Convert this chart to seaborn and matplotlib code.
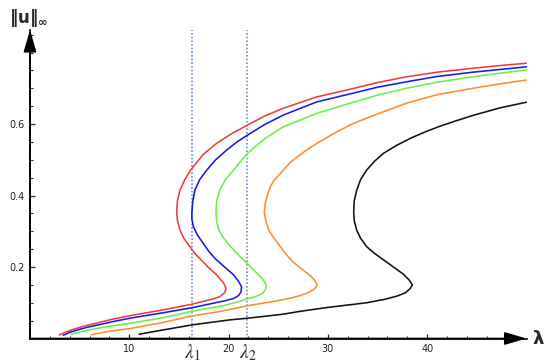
import numpy as np
import pandas as pd
import seaborn as sns
import matplotlib
matplotlib.use("Agg")
import matplotlib.pyplot as plt

# ============ 数据 ============
red_lam = [2.95, 3.6, 4.4, 5.5, 6.7, 8.3, 10.1, 13.4, 16.3, 17.6, 18.5, 19.1, 19.6, 19.74, 19.5, 18.8,
           18.0, 17.3, 16.6, 16.1, 15.5, 15.1, 14.85, 14.77, 14.85, 15.1, 15.6, 16.2, 17.45, 18.8, 20.3,
           21.9, 23.6, 25.5, 28.9, 32.2, 35.0, 37.9, 41.0, 44.6, 47.5, 50.0]
red_u = [0.010, 0.018, 0.026, 0.035, 0.043, 0.054, 0.064, 0.080, 0.096, 0.105, 0.111, 0.117, 0.128, 0.140, 0.155, 0.178,
         0.198, 0.218, 0.238, 0.257, 0.280, 0.303, 0.330, 0.355, 0.385, 0.415, 0.445, 0.472, 0.515, 0.546, 0.573,
         0.597, 0.622, 0.644, 0.676, 0.697, 0.716, 0.732, 0.745, 0.756, 0.764, 0.770]

blue_lam = [3.35, 4.0, 4.8, 5.7, 6.7, 8.3, 10.1, 13.4, 16.3, 18.5, 19.7, 20.5, 21.0, 21.25, 21.3, 21.0, 20.5,
            19.6, 18.7, 18.0, 17.45, 16.85, 16.45, 16.3, 16.3, 16.4, 16.6, 17.1, 17.8, 18.7, 19.8, 20.8,
            21.9, 23.6, 25.5, 28.9, 32.2, 35.0, 37.9, 41.0, 44.6, 47.5, 50.0]
blue_u = [0.009, 0.017, 0.024, 0.031, 0.037, 0.047, 0.057, 0.072, 0.086, 0.099, 0.106, 0.112, 0.120, 0.130, 0.145, 0.160, 0.178,
          0.200, 0.222, 0.244, 0.266, 0.290, 0.313, 0.335, 0.352, 0.385, 0.415, 0.445, 0.471, 0.500, 0.527, 0.549,
          0.569, 0.598, 0.625, 0.662, 0.684, 0.703, 0.718, 0.733, 0.745, 0.753, 0.760]

green_lam = [4.13, 4.8, 5.6, 7.5, 10.1, 13.4, 16.3, 19.5, 21.0, 22.0, 22.8, 23.4, 23.7, 23.8, 23.6, 23.2, 22.7,
             22.0, 21.3, 20.6, 19.8, 19.35, 19.0, 18.8, 18.73, 18.8, 19.1, 19.7, 20.5, 21.2, 21.9, 23.6, 25.5,
             28.9, 32.2, 35.0, 37.9, 41.0, 44.6, 47.5, 50.0]
green_u = [0.011, 0.017, 0.022, 0.032, 0.0425, 0.058, 0.076, 0.092, 0.103, 0.112, 0.118, 0.126, 0.136, 0.148, 0.160, 0.173, 0.187,
           0.206, 0.225, 0.245, 0.270, 0.287, 0.305, 0.328, 0.352, 0.385, 0.415, 0.445, 0.471, 0.495, 0.518, 0.558, 0.592,
           0.630, 0.658, 0.681, 0.700, 0.717, 0.732, 0.743, 0.751]

orange_lam = [6.14, 6.8, 7.5, 8.7, 10.1, 13.4, 16.3, 19.0, 22.0, 25.0, 26.4, 27.2, 27.9, 28.5, 28.8, 28.9, 28.75,
              28.4, 27.9, 27.2, 26.5, 25.8, 25.2, 24.6, 24.1, 23.75, 23.6, 23.7, 23.95, 24.2, 24.6, 25.5, 26.2,
              27.0, 27.9, 28.9, 30.5, 32.2, 33.4, 35.0, 37.9, 41.0, 44.6, 47.5, 50.0]
orange_u = [0.010, 0.014, 0.018, 0.023, 0.028, 0.045, 0.063, 0.075, 0.092, 0.106, 0.114, 0.120, 0.127, 0.136, 0.143, 0.150, 0.160,
            0.171, 0.183, 0.198, 0.214, 0.235, 0.257, 0.280, 0.300, 0.328, 0.355, 0.380, 0.405, 0.425, 0.443, 0.471, 0.492,
            0.510, 0.528, 0.546, 0.572, 0.597, 0.611, 0.628, 0.658, 0.682, 0.700, 0.713, 0.723]

black_lam = [11.0, 13.0, 16.3, 20.1, 22.0, 25.5, 27.2, 30.0, 33.9, 35.8, 37.0, 37.8, 38.3, 38.5, 38.2, 37.6,
             36.6, 35.6, 34.7, 33.9, 33.3, 32.9, 32.65, 32.6, 32.65, 32.9, 33.3, 33.9, 34.7, 35.6, 36.9, 38.3,
             39.8, 41.3, 42.8, 44.6, 47.3, 50.0]
black_u = [0.012, 0.022, 0.038, 0.052, 0.057, 0.068, 0.076, 0.087, 0.100, 0.110, 0.119, 0.128, 0.140, 0.150, 0.163, 0.180,
           0.200, 0.220, 0.238, 0.257, 0.280, 0.303, 0.330, 0.355, 0.385, 0.415, 0.445, 0.471, 0.496, 0.518, 0.540, 0.560,
           0.578, 0.594, 0.608, 0.624, 0.645, 0.661]

lam_marks = [16.3, 21.9]
lam_mark_labels = [r"$\lambda_1$", r"$\lambda_2$"]

x_ticks = [10, 20, 30, 40]
y_ticks = [0.2, 0.4, 0.6]

curves = {
    "red": (red_lam, red_u),
    "blue": (blue_lam, blue_u),
    "green": (green_lam, green_u),
    "orange": (orange_lam, orange_u),
    "black": (black_lam, black_u),
}
palette = {"red": "#f03c3c", "blue": "#1a1ae6", "green": "#6aee4a", "orange": "#ff8c2e", "black": "#111111"}

frames = []
for name, (lam, u) in curves.items():
    frames.append(pd.DataFrame({"lam": lam, "u": u, "curve": name}))
df = pd.concat(frames, ignore_index=True)

# ============ 画图 ============
sns.set_style("white")
plt.rcParams["font.family"] = ["DejaVu Sans"]
plt.rcParams["mathtext.fontset"] = "stix"

fig = plt.figure(figsize=(5.5, 3.64), dpi=100)
ax = fig.add_axes([30 / 550, (364 - 338.5) / 364, (526.5 - 30) / 550, (338.5 - 30) / 364])

for lam in lam_marks:
    ax.axvline(lam, color="#7090c8", ls=(0, (1, 1.2)), lw=1.2, zorder=1)

sns.lineplot(data=df, x="lam", y="u", hue="curve", palette=palette, sort=False,
             estimator=None, lw=1.15, legend=False, ax=ax, zorder=3)

ax.set_xlim(0, 50.0)
ax.set_ylim(0, 0.863)
ax.set_xlabel("")
ax.set_ylabel("")

ax.set_xticks(x_ticks)
ax.set_xticks(np.arange(2, 50, 2), minor=True)
ax.set_yticks(y_ticks)
ax.set_yticks(np.arange(0.05, 0.86, 0.05), minor=True)
ax.tick_params(which="major", direction="in", length=3.5, width=0.9, labelsize=7, colors="#222222", pad=4)
ax.tick_params(which="minor", direction="in", length=2, width=0.8)
ax.tick_params(axis="y", which="both", left=True)
ax.tick_params(axis="x", which="both", bottom=True)

for side in ["top", "right"]:
    ax.spines[side].set_visible(False)
for side in ["left", "bottom"]:
    ax.spines[side].set_linewidth(1.2)
    ax.spines[side].set_color("black")

arrow = dict(arrowstyle="-|>,head_length=0.75,head_width=0.22", color="black", lw=1.2,
             mutation_scale=18, shrinkA=0, shrinkB=0)
ax.annotate("", xy=(1, 0), xytext=(0, 0), xycoords="axes fraction", arrowprops=arrow)
ax.annotate("", xy=(0, 1), xytext=(0, 0), xycoords="axes fraction", arrowprops=arrow)

for lam, lab in zip(lam_marks, lam_mark_labels):
    ax.text(lam, -0.045, lab, transform=ax.get_xaxis_transform(), ha="center", va="center",
            fontsize=14)

fig.text(29 / 550, 1 - 18 / 364, r"$\mathbf{\Vert u \Vert_{\infty}}$", ha="center", va="center",
         fontsize=12, math_fontfamily="dejavusans")
fig.text(538 / 550, 1 - 339 / 364, "λ", ha="center", va="center", fontsize=13, fontweight="bold")

fig.savefig("out.png", dpi=100)
